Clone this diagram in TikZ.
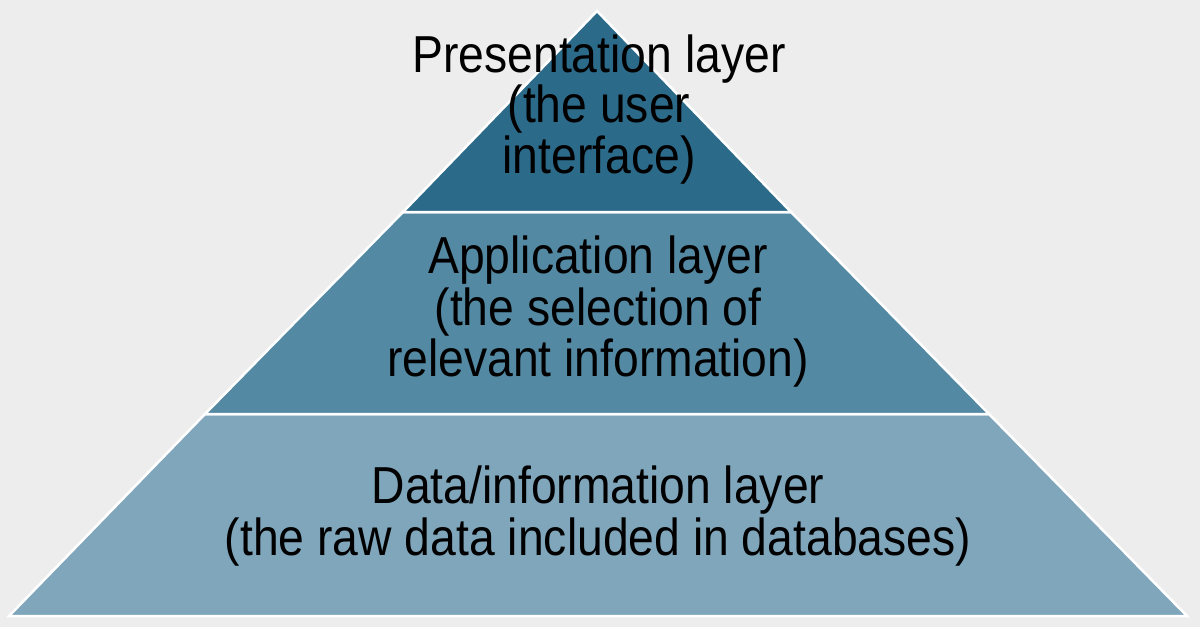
\documentclass[tikz,border=0pt]{standalone}
\usepackage{fontspec}
\usepackage{graphicx}
\setmainfont{Liberation Sans}
\definecolor{bgcol}{HTML}{EDEDED}
\definecolor{topcol}{HTML}{2C6A8A}
\definecolor{midcol}{HTML}{5489A3}
\definecolor{botcol}{HTML}{80A6BB}
\newcommand{\sqz}[1]{\scalebox{0.89}[1]{#1}}
\tikzset{
  layer/.style={draw=white, line width=2.5pt, line join=miter},
  lbl/.style={anchor=base, inner sep=0pt, text=black, font=\fontsize{52}{52}\selectfont}
}
\begin{document}
\begin{tikzpicture}[x=1pt,y=-1pt]
\fill[bgcol] (0,0) rectangle (1200,627);
\useasboundingbox (0,0) rectangle (1200,627);
% layers
\fill[layer, fill=botcol] (205,414) -- (989,414) -- (1187,616) -- (9,616) -- cycle;
\fill[layer, fill=midcol] (403,212) -- (791,212) -- (989,414) -- (205,414) -- cycle;
\fill[layer, fill=topcol] (597,11) -- (791,212) -- (403,212) -- cycle;
% texts
\node[lbl] (t1) at (599,72) {\sqz{Presentation layer}};
\node[lbl] (t2) at (599,122) {\sqz{(the user}};
\node[lbl] (t3) at (599,173) {\sqz{interface)}};
\node[lbl] (m1) at (598,273) {\sqz{Application layer}};
\node[lbl] (m2) at (598,325) {\sqz{(the selection of}};
\node[lbl] (m3) at (598,376) {\sqz{relevant information)}};
\node[lbl] (b1) at (598,503) {\sqz{Data/information layer}};
\node[lbl] (b2) at (598,555) {\sqz{(the raw data included in databases)}};
\end{tikzpicture}
\end{document}
